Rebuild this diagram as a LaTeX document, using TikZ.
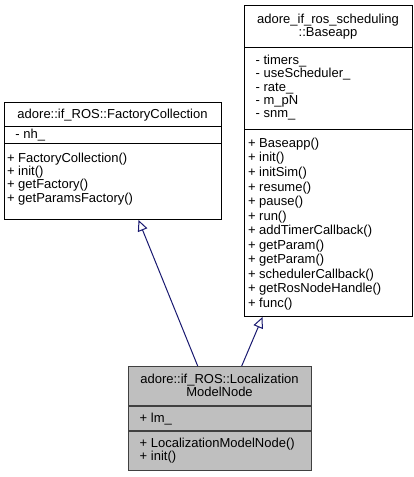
\documentclass[tikz,border=0pt]{standalone}
\usepackage{fontspec}
\setmainfont{Liberation Sans}
\usetikzlibrary{arrows.meta}
\definecolor{edgeblue}{HTML}{191970}
\definecolor{curfill}{HTML}{BFBFBF}
\definecolor{curdraw}{HTML}{404040}
\begin{document}
\begin{tikzpicture}[x=1pt,y=-1pt,
  clsbox/.style={draw=black, line width=1pt, fill=white, inner sep=0pt, anchor=north west},
  curbox/.style={draw=curdraw, line width=1.4pt, fill=curfill, inner sep=0pt, anchor=north west},
  sep/.style={draw=black, line width=1pt},
  cursep/.style={draw=curdraw, line width=1.4pt},
  ttl/.style={inner sep=0pt, anchor=base, font=\fontsize{13}{13.4}\selectfont},
  mem/.style={inner sep=0pt, anchor=base west, font=\fontsize{13}{13.4}\selectfont},
  inh/.style={draw=edgeblue, line width=1pt, -{Triangle[open, length=11pt, width=10pt, fill=white]}}]
\useasboundingbox (0,0) rectangle (413,477);

% FactoryCollection
\node[clsbox, minimum width=217pt, minimum height=117pt] (fc) at (4,102) {};
\draw[sep] ([yshift=-24pt]fc.north west) -- ([yshift=-24pt]fc.north east);
\draw[sep] ([yshift=-41pt]fc.north west) -- ([yshift=-41pt]fc.north east);
\node[ttl] (fct) at (112.5,118) {adore::if\_ROS::FactoryCollection};
\node[mem] (fca1) at (15.2,138.5) {- nh\_};
\node[mem] (fcm1) at (6.8,162) {+ FactoryCollection()};
\node[mem] (fcm2) at (6.8,175.4) {+ init()};
\node[mem] (fcm3) at (6.8,188.8) {+ getFactory()};
\node[mem] (fcm4) at (6.8,202.2) {+ getParamsFactory()};

% Baseapp
\node[clsbox, minimum width=168pt, minimum height=311pt] (ba) at (244,5) {};
\draw[sep] ([yshift=-42pt]ba.north west) -- ([yshift=-42pt]ba.north east);
\draw[sep] ([yshift=-124pt]ba.north west) -- ([yshift=-124pt]ba.north east);
\node[ttl] (bat1) at (328,23.3) {adore\_if\_ros\_scheduling};
\node[ttl] (bat2) at (328,36.7) {::Baseapp};
\node[mem] (baa1) at (255.5,64.3) {- timers\_};
\node[mem] (baa2) at (255.5,77.7) {- useScheduler\_};
\node[mem] (baa3) at (255.5,91.1) {- rate\_};
\node[mem] (baa4) at (255.5,104.5) {- m\_pN};
\node[mem] (baa5) at (255.5,117.9) {- snm\_};
\node[mem] (bam1) at (247.8,147.3) {+ Baseapp()};
\node[mem] (bam2) at (247.8,161.9) {+ init()};
\node[mem] (bam3) at (247.8,176.4) {+ initSim()};
\node[mem] (bam4) at (247.8,191.0) {+ resume()};
\node[mem] (bam5) at (247.8,205.5) {+ pause()};
\node[mem] (bam6) at (247.8,220.1) {+ run()};
\node[mem] (bam7) at (247.8,234.7) {+ addTimerCallback()};
\node[mem] (bam8) at (247.8,249.2) {+ getParam()};
\node[mem] (bam9) at (247.8,263.8) {+ getParam()};
\node[mem] (bam10) at (247.8,278.3) {+ schedulerCallback()};
\node[mem] (bam11) at (247.8,292.9) {+ getRosNodeHandle()};
\node[mem] (bam12) at (247.8,307.5) {+ func()};

% LocalizationModelNode
\node[curbox, minimum width=183pt, minimum height=104pt] (lmn) at (128,366) {};
\draw[cursep] ([yshift=-40pt]lmn.north west) -- ([yshift=-40pt]lmn.north east);
\draw[cursep] ([yshift=-65pt]lmn.north west) -- ([yshift=-65pt]lmn.north east);
\node[ttl] (lmnt1) at (219.5,383.3) {adore::if\_ROS::Localization};
\node[ttl] (lmnt2) at (219.5,396.7) {ModelNode};
\node[mem] (lmna1) at (139.5,422.3) {+ lm\_};
\node[mem] (lmnm1) at (139.5,447.3) {+ LocalizationModelNode()};
\node[mem] (lmnm2) at (139.5,460.7) {+ init()};

% inheritance
\draw[inh] ([xshift=-22.5pt]lmn.north) -- ([xshift=25.5pt]fc.south);
\draw[inh] ([xshift=21.5pt]lmn.north) -- ([xshift=-66pt]ba.south);
\end{tikzpicture}
\end{document}
